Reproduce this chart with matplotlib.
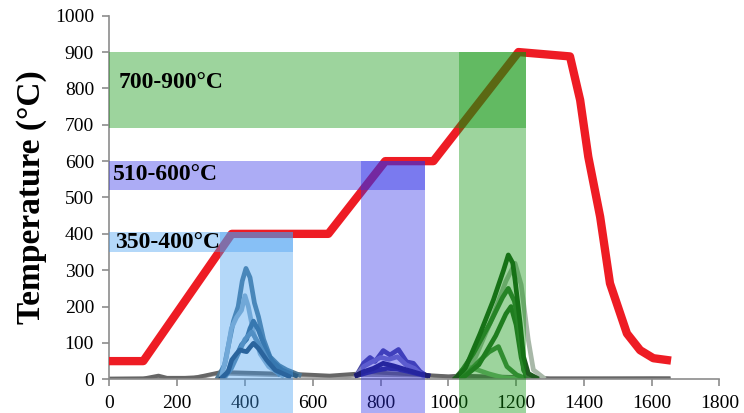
import matplotlib.pyplot as plt
from matplotlib.patches import Rectangle

# heating profile (red)
time_pts = [0, 100, 361, 646, 814, 956, 1207, 1359, 1389, 1413, 1448, 1477, 1527, 1566, 1605, 1645]
temp_pts = [50, 50, 400, 400, 600, 600, 900, 888, 768, 612, 447, 264, 126, 80, 58, 53]

# baseline traces (gray)
base1_x = [0, 100, 145, 170, 250, 300, 330, 560, 650, 740, 760, 930, 1000, 1030, 1250, 1300, 1600, 1650]
base1_y = [2, 2, 10, 4, 4, 14, 20, 14, 10, 16, 20, 12, 8, 10, 5, 2, 3, 3]
base2_x = [0, 120, 200, 280, 320, 560, 700, 745, 935, 1020, 1260, 1650]
base2_y = [1, 3, 2, 8, 16, 10, 8, 12, 10, 6, 3, 1]

# 350-400 C peaks
blue_curves = [
    ([320, 340, 355, 366, 380, 392, 403, 415, 428, 440, 455, 474, 500, 523, 560],
     [5, 40, 110, 160, 200, 270, 305, 280, 210, 172, 110, 62, 38, 26, 12]),
    ([330, 345, 360, 375, 390, 400, 410, 425, 445, 470, 510],
     [5, 60, 140, 170, 190, 230, 200, 130, 70, 35, 10]),
    ([330, 350, 370, 390, 405, 415, 425, 440, 460, 480, 510, 550],
     [3, 20, 55, 95, 110, 140, 160, 135, 85, 50, 25, 10]),
    ([340, 360, 380, 400, 420, 440, 470, 500],
     [5, 30, 70, 110, 130, 100, 45, 15]),
    ([330, 350, 361, 375, 386, 395, 405, 415, 425, 440, 464, 490, 530],
     [2, 20, 53, 70, 81, 78, 76, 88, 99, 85, 53, 25, 8]),
]
blue_colors = ["#4d7896", "#8fb0c8", "#2f5f85", "#5b86a6", "#1a3f66"]

# 510-600 C peaks
purple_curves = [
    ([730, 750, 769, 784, 808, 828, 853, 877, 897, 917, 937],
     [12, 44, 60, 49, 79, 67, 82, 48, 44, 21, 9]),
    ([730, 750, 775, 800, 825, 850, 875, 900, 925],
     [12, 35, 48, 60, 55, 62, 40, 30, 10]),
    ([730, 760, 790, 820, 850, 880, 910, 940],
     [10, 18, 25, 30, 28, 22, 15, 10]),
    ([730, 750, 779, 808, 838, 877, 917, 940],
     [12, 21, 30, 44, 37, 26, 15, 10]),
]
purple_colors = ["#4a4aa0", "#7a7ac0", "#2a2a80", "#1e1e70"]

# 700-900 C peaks
green_curves = [
    ([1030, 1080, 1130, 1170, 1197, 1215, 1236, 1251, 1280],
     [3, 60, 170, 270, 319, 260, 108, 26, 5]),
    ([1020, 1040, 1055, 1080, 1120, 1160, 1200],
     [2, 25, 35, 28, 15, 5, 2]),
    ([1030, 1060, 1084, 1120, 1148, 1173, 1202, 1230],
     [2, 20, 44, 75, 90, 35, 12, 2]),
    ([1040, 1090, 1140, 1170, 1185, 1200, 1215, 1230],
     [2, 40, 120, 180, 200, 150, 60, 5]),
    ([1025, 1074, 1123, 1160, 1177, 1195, 1207, 1222, 1240],
     [3, 71, 154, 225, 250, 215, 154, 25, 3]),
    ([1020, 1050, 1094, 1133, 1163, 1177, 1190, 1197, 1212, 1222, 1236, 1260],
     [3, 30, 126, 218, 300, 342, 320, 273, 154, 62, 16, 4]),
]
green_colors = ["#a8b8a8", "#7ab07a", "#4a8a4a", "#2e6e2e", "#3a7a3a", "#1e5a1e"]

# temperature windows: (x0, x1, y0, y1, label, color, label y, label x)
windows = [
    (325, 543, 350, 405, "350-400°C", "#449ef2", 375, 17),
    (742, 931, 520, 600, "510-600°C", "#3030e7", 562, 11),
    (1033, 1229, 690, 900, "700-900°C", "#0a940a", 817, 26),
]

plt.rcParams["font.family"] = ["Liberation Serif", "DejaVu Serif"]

fig = plt.figure(figsize=(7.44, 4.13), dpi=100)
ax = fig.add_axes([0.147, 0.0816, 0.82, 0.8804])

ax.plot(base2_x, base2_y, color="#9a9a9a", lw=2.8, zorder=2)
ax.plot(base1_x, base1_y, color="#666666", lw=2.8, zorder=2)
for (xs, ys), c in zip(blue_curves, blue_colors):
    ax.plot(xs, ys, color=c, lw=3.4, zorder=2)
for (xs, ys), c in zip(purple_curves, purple_colors):
    ax.plot(xs, ys, color=c, lw=3.4, zorder=2)
for (xs, ys), c in zip(green_curves, green_colors):
    ax.plot(xs, ys, color=c, lw=3.4, zorder=2)

ax.plot(time_pts, temp_pts, color="#ee1c24", lw=6, zorder=3)

for x0, x1, y0, y1, label, color, ty, tx in windows:
    # horizontal bar from the axis
    ax.add_patch(Rectangle((0, y0), x1, y1 - y0, facecolor=color, alpha=0.4,
                           lw=0, zorder=4))
    # vertical bar down past the axis
    ax.add_patch(Rectangle((x0, -93), x1 - x0, y1 + 93, facecolor=color, alpha=0.4,
                           lw=0, zorder=4, clip_on=False))
    ax.text(tx, ty, label, fontsize=17, fontweight="bold", va="center", ha="left",
            zorder=6)

ax.set_xlim(0, 1800)
ax.set_ylim(0, 1000)
ax.set_xticks(range(0, 1801, 200))
ax.set_yticks(range(0, 1001, 100))
ax.spines["top"].set_visible(False)
ax.spines["right"].set_visible(False)
for s in ("left", "bottom"):
    ax.spines[s].set_color("#8c8c8c")
    ax.spines[s].set_linewidth(1.2)
ax.tick_params(direction="out", length=5, width=1.2, color="#8c8c8c",
               labelsize=14, pad=6)
ax.set_ylabel("Temperature (°C)", fontsize=24, fontweight="bold")
ax.yaxis.set_label_coords(-0.102, 0.5)

fig.savefig("out.png", dpi=100)
